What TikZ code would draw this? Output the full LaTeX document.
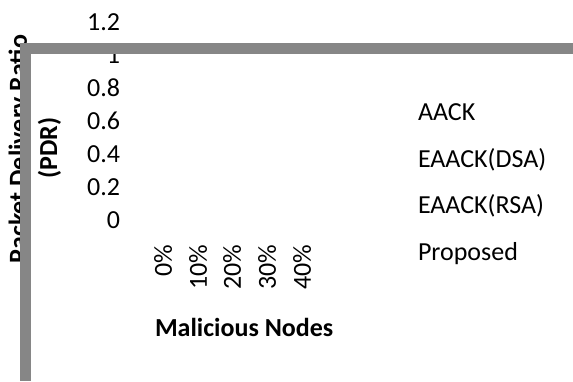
\documentclass[tikz,border=0pt]{standalone}
\usepackage{fontspec}
\setmainfont{Carlito}
\definecolor{barcol}{RGB}{134,134,134}
\tikzset{
  lbl/.style={inner sep=0pt, outer sep=0pt, font=\fontsize{26}{31}\selectfont},
  blbl/.style={lbl, font=\fontsize{26}{31}\selectfont\bfseries},
  tick/.style={lbl, anchor=base east},
  xtick/.style={lbl, rotate=90, anchor=east},
  leg/.style={lbl, anchor=base west},
  bar/.style={fill=barcol, draw=none}
}
\begin{document}
\begin{tikzpicture}[x=1pt,y=-1pt]
\useasboundingbox (0,0) rectangle (573,381);
% y tick labels
\node[tick] (y12) at (120,30) {1.2};
\node[tick] (y10) at (120,63) {1};
\node[tick] (y08) at (120,96) {0.8};
\node[tick] (y06) at (120,129) {0.6};
\node[tick] (y04) at (120,162) {0.4};
\node[tick] (y02) at (120,195) {0.2};
\node[tick] (y00) at (120,228) {0};
% x tick labels
\node[xtick] (x0) at (163,245) {0\%};
\node[xtick] (x10) at (198,245) {10\%};
\node[xtick] (x20) at (232,245) {20\%};
\node[xtick] (x30) at (267,245) {30\%};
\node[xtick] (x40) at (302,245) {40\%};
% axis titles
\node[blbl, anchor=base west] (xt) at (155,336.7) {Malicious Nodes};
\node[blbl, rotate=90, anchor=base] (yt1) at (27,149) {Packet Delivery Ratio};
\node[blbl, rotate=90, anchor=base] (yt2) at (57,148) {(PDR)};
% legend
\node[leg] (l1) at (418,120.7) {AACK};
\node[leg] (l2) at (418,167) {EAACK(DSA)};
\node[leg] (l3) at (418,213.5) {EAACK(RSA)};
\node[leg] (l4) at (418,260.5) {Proposed};
% bars
\fill[bar] (19.5,43) rectangle (573,54);
\fill[bar] (19.5,43) rectangle (30.5,381);
\end{tikzpicture}
\end{document}
